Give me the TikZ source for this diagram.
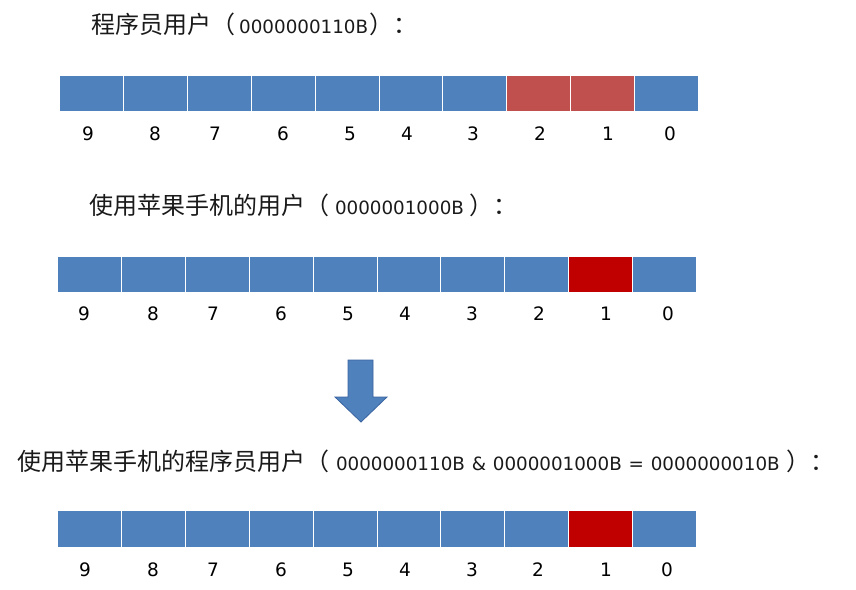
\documentclass[tikz,border=0pt]{standalone}
\usepackage{fontspec}
\setmainfont{DejaVu Sans}
\newfontfamily\cjkfont{Noto Sans CJK SC}
\newcommand\cj[1]{{\cjkfont\fontsize{24}{24}\selectfont #1}}
\usetikzlibrary{calc}
\definecolor{cellblue}{HTML}{4F81BD}
\definecolor{cellred}{HTML}{C0504D}
\definecolor{celldark}{HTML}{C00000}
\definecolor{arrowedge}{HTML}{3A64A0}
\definecolor{txt}{HTML}{1A1A1A}
\tikzset{
  bitcell/.style={rectangle, draw=white, line width=0.8pt, fill=cellblue, minimum width=63.9pt, minimum height=36pt, inner sep=0pt, anchor=north west},
  bitlabel/.style={font=\fontsize{18.5}{20}\selectfont, text=black, inner sep=0pt, anchor=base},
  titletext/.style={font=\fontsize{18.3}{20}\selectfont, text=txt, anchor=base west, inner sep=0pt},
}
\begin{document}
\begin{tikzpicture}[x=1pt,y=-1pt]
\useasboundingbox[fill=white] (0,0) rectangle (856,589);
% titles
\node[titletext] (t1) at (91,33.5) {\cj{程序员用户（}\kern4pt 0000000110B\kern1pt\cj{）：}};
\node[titletext] (t2) at (89,214) {\cj{使用苹果手机的用户（} 0000001000B \cj{）：}};
\node[titletext] (t3) at (17,470) {\cj{使用苹果手机的程序员用户（}\kern1pt\ 0000000110B\kern1pt\ \&\kern1pt\ 0000001000B\kern1pt\ =\kern1pt\ 0000000010B\kern1pt\ \cj{）：}};
% row 1
\foreach \i in {0,...,9}{
  \pgfmathtruncatemacro{\b}{9-\i}
  \node[bitcell] (a\b) at ({59+63.9*\i},75) {};
}
\node[bitcell, fill=cellred] (a2r) at ({59+63.9*7},75) {};
\node[bitcell, fill=cellred] (a1r) at ({59+63.9*8},75) {};
\foreach \b/\x in {9/88,8/155,7/215,6/283,5/350,4/407,3/473,2/540,1/608,0/670}{
  \node[bitlabel] (la\b) at (\x,140) {\b};
}
% row 2
\foreach \i in {0,...,9}{
  \pgfmathtruncatemacro{\b}{9-\i}
  \node[bitcell] (b\b) at ({57+63.9*\i},256) {};
}
\node[bitcell, fill=celldark] (b1r) at ({57+63.9*8},256) {};
\foreach \b/\x in {9/84,8/153,7/213,6/281,5/348,4/405,3/472,2/539,1/606,0/668}{
  \node[bitlabel] (lb\b) at (\x,320.5) {\b};
}
% arrow
\draw[fill=cellblue, draw=arrowedge, line width=0.8pt, line join=miter]
  (348,360) -- (373,360) -- (373,397) -- (387,397) -- (361,422) -- (335,397) -- (348,397) -- cycle;
% row 3
\foreach \i in {0,...,9}{
  \pgfmathtruncatemacro{\b}{9-\i}
  \node[bitcell, minimum height=37pt] (c\b) at ({57+63.9*\i},509.5) {};
}
\node[bitcell, minimum height=37pt, fill=celldark] (c1r) at ({57+63.9*8},509.5) {};
\foreach \b/\x in {9/85,8/153,7/213,6/281,5/348,4/405,3/472,2/538,1/606,0/667}{
  \node[bitlabel] (lc\b) at (\x,576) {\b};
}
\end{tikzpicture}
\end{document}
